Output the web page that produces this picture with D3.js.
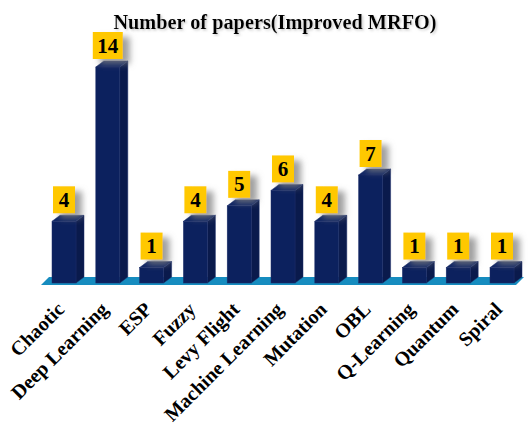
<!DOCTYPE html>
<html>
<head>
<meta charset="utf-8">
<script src="https://cdn.jsdelivr.net/npm/d3@7"></script>
<style>
  html, body { margin: 0; padding: 0; background: #ffffff; }
  svg { display: block; }
</style>
</head>
<body>
<div id="chart"></div>
<script>
// Improvement strategies applied to MRFO and the number of papers for each
const categories = ["Chaotic", "Deep Learning", "ESP", "Fuzzy", "Levy Flight",
  "Machine Learning", "Mutation", "OBL", "Q-Learning", "Quantum", "Spiral"];
const paperCounts = [4, 14, 1, 4, 5, 6, 4, 7, 1, 1, 1];
const chartTitle = "Number of papers(Improved MRFO)";

const width = 528, height = 427;
const serif = "'Liberation Serif', 'Times New Roman', serif";

const svg = d3.select("#chart").append("svg")
  .attr("width", width).attr("height", height);

const defs = svg.append("defs");
const shadow = defs.append("filter").attr("id", "boxShadow")
  .attr("x", "-50%").attr("y", "-50%").attr("width", "220%").attr("height", "220%");
shadow.append("feDropShadow")
  .attr("dx", 7).attr("dy", 5).attr("stdDeviation", 3)
  .attr("flood-color", "#808080").attr("flood-opacity", 0.75);

const titleShadow = defs.append("filter").attr("id", "titleShadow");
titleShadow.append("feDropShadow")
  .attr("dx", 1.5).attr("dy", 1.5).attr("stdDeviation", 1)
  .attr("flood-color", "#999").attr("flood-opacity", 0.5);

// Scales
const x = d3.scaleBand()
  .domain(categories)
  .range([52, 514])
  .paddingInner(0.452)
  .paddingOuter(0);

const baseY = 283;
const y = d3.scaleLinear().domain([0, 14]).range([baseY, 67]);

// 3D depth offsets
const dx = 8, dy = 6;

// Title
svg.append("text")
  .attr("x", 275).attr("y", 29)
  .attr("text-anchor", "middle")
  .attr("font-family", serif)
  .attr("font-weight", "bold")
  .attr("font-size", 20.3)
  .attr("fill", "#000")
  .attr("filter", "url(#titleShadow)")
  .text(chartTitle);

// Floor
const floorL = 41, floorR = 516, floorBottom = 285, floorTop = 277;
svg.append("path")
  .attr("d", `M${floorL},${floorBottom} L${floorR},${floorBottom} L${floorR + dx},${floorTop} L${floorL + dx},${floorTop} Z`)
  .attr("fill", "#168cbf");

// Bars
const data = categories.map((c, i) => ({ cat: c, value: paperCounts[i] }));
const bw = x.bandwidth();

const bars = svg.append("g").selectAll("g.bar").data(data).join("g").attr("class", "bar");

// side face
bars.append("path")
  .attr("d", d => {
    const x1 = x(d.cat) + bw, yt = y(d.value);
    return `M${x1},${baseY} L${x1},${yt} L${x1 + dx},${yt - dy} L${x1 + dx},${baseY - dy} Z`;
  })
  .attr("fill", "#0a1a4c")
  .attr("stroke", "#1d2f6a").attr("stroke-width", 0.5);

// top face
bars.append("path")
  .attr("d", d => {
    const x0 = x(d.cat), yt = y(d.value);
    return `M${x0},${yt} L${x0 + bw},${yt} L${x0 + bw + dx},${yt - dy} L${x0 + dx},${yt - dy} Z`;
  })
  .attr("fill", "#0f2564")
  .attr("stroke", "#1d2f6a").attr("stroke-width", 0.5);

// front face
bars.append("rect")
  .attr("x", d => x(d.cat))
  .attr("y", d => y(d.value))
  .attr("width", bw)
  .attr("height", d => baseY - y(d.value))
  .attr("fill", "#0c215e")
  .attr("stroke", "#1d2f6a").attr("stroke-width", 0.5);

// Value labels in yellow boxes
const labels = svg.append("g").selectAll("g.lbl").data(data).join("g").attr("class", "lbl");
labels.each(function(d) {
  const g = d3.select(this);
  const cx = x(d.cat) + bw / 2;
  const txt = String(d.value);
  const boxW = txt.length > 1 ? 30 : 22;
  const boxH = 27;
  const top = y(d.value) - 35;
  g.append("rect")
    .attr("x", cx - boxW / 2).attr("y", top)
    .attr("width", boxW).attr("height", boxH)
    .attr("fill", "#ffc800")
    .attr("filter", "url(#boxShadow)");
  g.append("text")
    .attr("x", cx).attr("y", top + boxH / 2 + 7)
    .attr("text-anchor", "middle")
    .attr("font-family", serif)
    .attr("font-weight", "bold")
    .attr("font-size", 21)
    .attr("fill", "#000")
    .text(txt);
});

// Category axis labels, rotated
const xAxis = d3.axisBottom(x).tickSize(0).tickPadding(0);
const axisG = svg.append("g")
  .attr("transform", `translate(0, 312)`)
  .call(xAxis);
axisG.select(".domain").remove();
axisG.selectAll(".tick text")
  .attr("font-family", serif)
  .attr("font-weight", "bold")
  .attr("font-size", 20)
  .attr("fill", "#000")
  .attr("text-anchor", "end")
  .attr("dx", 2)
  .attr("dy", 0)
  .attr("transform", "rotate(-45)");
</script>
</body>
</html>
